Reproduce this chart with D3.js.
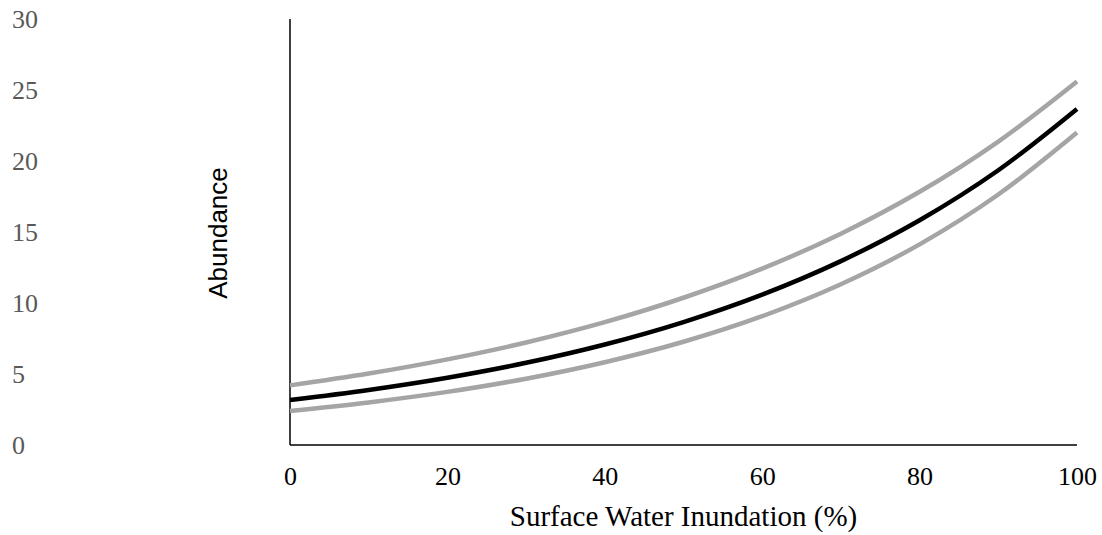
<!DOCTYPE html>
<html>
<head>
<meta charset="utf-8">
<script src="https://cdn.jsdelivr.net/npm/d3@7"></script>
<style>
    body { margin: 0; background: #fff; }
    .tick-label { font-family: "Times New Roman", "Liberation Serif", serif; font-size: 26px; }
    .axis-title { font-family: "Times New Roman", "Liberation Serif", serif; font-size: 29px; fill: #000; }
    .y-title { font-family: Arial, "Liberation Sans", sans-serif; font-size: 26px; fill: #000; }
</style>
</head>
<body>
<div id="chart"></div>
<script>
// values, every 10 % of inundation
const inundation = [0, 10, 20, 30, 40, 50, 60, 70, 80, 90, 100];
const fitted = [3.17, 3.88, 4.74, 5.79, 7.08, 8.66, 10.59, 12.95, 15.83, 19.35, 23.66];
const upperBound = [4.2, 5.03, 6.03, 7.22, 8.65, 10.37, 12.42, 14.88, 17.83, 21.37, 25.6];
const lowerBound = [2.4, 3.0, 3.74, 4.67, 5.83, 7.27, 9.07, 11.32, 14.13, 17.64, 22.0];
const xTicks = [0, 20, 40, 60, 80, 100];
const yTicks = [0, 5, 10, 15, 20, 25, 30];

const width = 1102, height = 535;
const margin = { top: 19, right: 25, bottom: 90, left: 290 };

let svg = d3.select("#chart").append("svg").attr("width", width).attr("height", height);

let x = d3.scaleLinear().domain([0, 100]).range([margin.left, width - margin.right]);
let y = d3.scaleLinear().domain([0, 30]).range([height - margin.bottom, margin.top]);

// y tick labels sit far left of the axis line, left aligned
let yAxis = svg.append("g").call(d3.axisLeft(y).tickValues(yTicks).tickSize(0));
yAxis.select(".domain").remove();
yAxis.selectAll("text").attr("class", "tick-label").attr("x", 12).attr("dy", "0.34em")
    .attr("text-anchor", "start").attr("fill", "#595959");
yAxis.attr("font-size", null).attr("font-family", null);

let xAxis = svg.append("g").attr("transform", "translate(0," + y(0) + ")")
    .call(d3.axisBottom(x).tickValues(xTicks).tickSize(0));
xAxis.select(".domain").remove();
xAxis.selectAll("text").attr("class", "tick-label").attr("y", 40).attr("dy", 0).attr("fill", "#000");
xAxis.attr("font-size", null).attr("font-family", null);

// axis lines
svg.append("line").attr("x1", x(0)).attr("x2", x(0)).attr("y1", y(30)).attr("y2", y(0))
    .attr("stroke", "#000").attr("stroke-width", 1.5);
svg.append("line").attr("x1", x(0)).attr("x2", x(100)).attr("y1", y(0)).attr("y2", y(0))
    .attr("stroke", "#000").attr("stroke-width", 1.5);

let line = d3.line().x((d, i) => x(inundation[i])).y(d => y(d)).curve(d3.curveCatmullRom);

let series = [
    { values: upperBound, color: "#a5a5a5" },
    { values: lowerBound, color: "#a5a5a5" },
    { values: fitted, color: "#000000" }
];
svg.selectAll(".series").data(series).join("path").classed("series", true)
    .attr("d", d => line(d.values))
    .attr("fill", "none").attr("stroke", d => d.color).attr("stroke-width", 4.5);

svg.append("text").attr("class", "axis-title").attr("x", (x(0) + x(100)) / 2).attr("y", 526)
    .attr("text-anchor", "middle").text("Surface Water Inundation (%)");
svg.append("text").attr("class", "y-title").attr("transform", "rotate(-90)")
    .attr("x", -233).attr("y", 227).attr("text-anchor", "middle").text("Abundance");
</script>
</body>
</html>
